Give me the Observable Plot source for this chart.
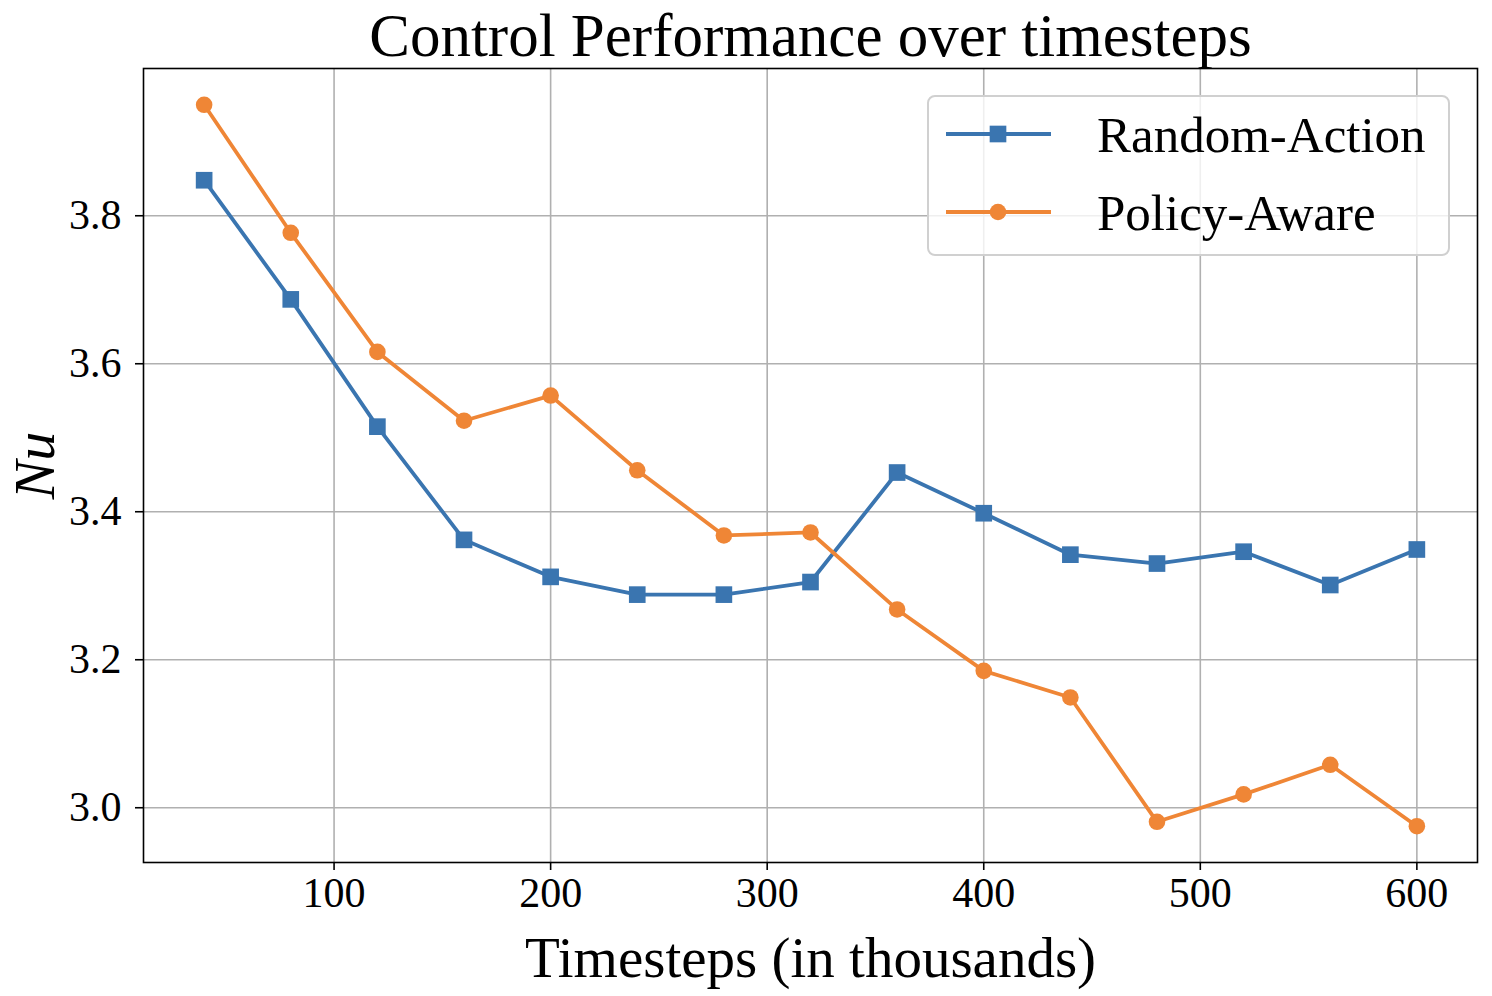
<!DOCTYPE html>
<html>
<head>
<meta charset="utf-8">
<script src="https://cdn.jsdelivr.net/npm/d3@7"></script>
<script src="https://cdn.jsdelivr.net/npm/@observablehq/plot@0.6"></script>
<style>
  html, body { margin: 0; padding: 0; background: #fff; }
  #wrap { position: relative; width: 1492px; height: 996px; }
  #legend { position: absolute; left: 927px; top: 95px; width: 523px; height: 161px;
    box-sizing: border-box; border: 2px solid #d0d0d0; border-radius: 8px; background: rgba(255,255,255,0.8); }
</style>
</head>
<body>
<div id="wrap"></div>
<script>
const timesteps = [40, 80, 120, 160, 200, 240, 280, 320, 360, 400, 440, 480, 520, 560, 600];
const randomAction = [3.848, 3.687, 3.515, 3.362, 3.312, 3.288, 3.288, 3.305, 3.453, 3.398, 3.342, 3.330, 3.346, 3.301, 3.349];
const policyAware = [3.950, 3.777, 3.616, 3.523, 3.557, 3.456, 3.368, 3.372, 3.268, 3.185, 3.149, 2.981, 3.018, 3.058, 2.975];
const seriesNames = ["Random-Action", "Policy-Aware"];
const seriesColors = ["#3a75b0", "#ef8636"];
const seriesSymbols = ["square", "circle"];
const xTicks = [100, 200, 300, 400, 500, 600];
const yTicks = [3.0, 3.2, 3.4, 3.6, 3.8];
const titleText = "Control Performance over timesteps";
const xLabel = "Timesteps (in thousands)";
const yLabel = "Nu";

const FONT = "'Liberation Serif', 'DejaVu Serif', serif";
const ra = timesteps.map((t, i) => ({t, v: randomAction[i]}));
const pa = timesteps.map((t, i) => ({t, v: policyAware[i]}));
const symR = {square: 9.4, circle: 8.3};

const chart = Plot.plot({
  width: 1492,
  height: 996,
  marginLeft: 143,
  marginRight: 15,
  marginTop: 68,
  marginBottom: 134,
  style: {fontFamily: FONT, fontSize: "42px", color: "black", background: "white"},
  x: {domain: [12, 628]},
  y: {domain: [2.926, 3.999]},
  marks: [
    Plot.gridX(xTicks, {stroke: "#b0b0b0", strokeOpacity: 1, strokeWidth: 1.6}),
    Plot.gridY(yTicks, {stroke: "#b0b0b0", strokeOpacity: 1, strokeWidth: 1.6}),
    Plot.axisX(xTicks, {tickSize: 8, tickPadding: 7, tickFormat: d => String(d), label: null, fontSize: 42, strokeWidth: 1.6}),
    Plot.axisY(yTicks, {tickSize: 8, tickPadding: 14, tickFormat: d => d.toFixed(1), label: null, fontSize: 42, strokeWidth: 1.6}),
    Plot.line(ra, {x: "t", y: "v", stroke: seriesColors[0], strokeWidth: 3.8}),
    Plot.line(pa, {x: "t", y: "v", stroke: seriesColors[1], strokeWidth: 3.8}),
    Plot.dot(ra, {x: "t", y: "v", symbol: seriesSymbols[0], r: symR.square, fill: seriesColors[0], stroke: "none"}),
    Plot.dot(pa, {x: "t", y: "v", symbol: seriesSymbols[1], r: symR.circle, fill: seriesColors[1], stroke: "none"}),
    Plot.frame({stroke: "black", strokeWidth: 1.6}),
    Plot.text([titleText], {frameAnchor: "top", lineAnchor: "middle", textAnchor: "middle", dy: -32, fontSize: 61, fill: "black"}),
    Plot.text([xLabel], {frameAnchor: "bottom", lineAnchor: "middle", textAnchor: "middle", dy: 96, fontSize: 57, fill: "black"}),
    Plot.text([yLabel], {frameAnchor: "left", lineAnchor: "middle", textAnchor: "middle", dx: -108, rotate: -90, fontSize: 58, fontStyle: "italic", fill: "black"})
  ]
});
document.getElementById("wrap").appendChild(chart);

// Legend overlay
const legend = document.createElement("div");
legend.id = "legend";
document.getElementById("wrap").appendChild(legend);
const lsvg = d3.select(legend).append("svg").attr("width", 519).attr("height", 157)
  .style("position", "absolute").style("left", "0").style("top", "0");
seriesNames.forEach((name, i) => {
  const cy = 37 + i * 78;
  const g = lsvg.append("g");
  g.append("line").attr("x1", 17).attr("x2", 122).attr("y1", cy).attr("y2", cy)
    .attr("stroke", seriesColors[i]).attr("stroke-width", 3.8);
  const sym = seriesSymbols[i] === "square" ? d3.symbolSquare : d3.symbolCircle;
  const r = symR[seriesSymbols[i]];
  g.append("path").attr("d", d3.symbol(sym, Math.PI * r * r)()).attr("transform", `translate(69,${cy})`)
    .attr("fill", seriesColors[i]);
  g.append("text").attr("x", 168).attr("y", cy).attr("dy", "0.35em")
    .attr("font-family", FONT).attr("font-size", 51).attr("fill", "black").text(name);
});
</script>
</body>
</html>
